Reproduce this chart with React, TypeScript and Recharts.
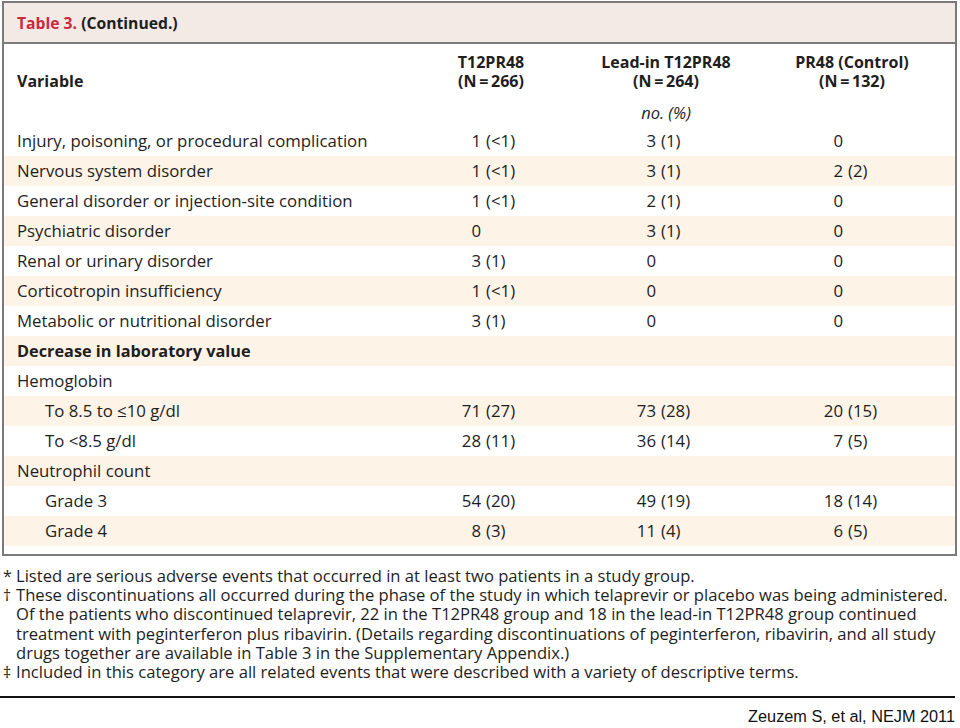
import React from 'react'
import { BarChart, Bar, XAxis, YAxis } from 'recharts'

// rows of the table, top to bottom
const variables = [
  'Injury, poisoning, or procedural complication',
  'Nervous system disorder',
  'General disorder or injection-site condition',
  'Psychiatric disorder',
  'Renal or urinary disorder',
  'Corticotropin insufficiency',
  'Metabolic or nutritional disorder',
  'Decrease in laboratory value',
  'Hemoglobin',
  'To 8.5 to \u226410 g/dl',
  'To <8.5 g/dl',
  'Neutrophil count',
  'Grade 3',
  'Grade 4',
]
const rowKinds = [
  'item', 'item', 'item', 'item', 'item', 'item', 'item',
  'section', 'group', 'sub', 'sub', 'group', 'sub', 'sub',
]

// no. (%) per study group
const t12Counts = [1, 1, 1, 0, 3, 1, 3, null, null, 71, 28, null, 54, 8]
const t12Pcts = ['<1', '<1', '<1', null, '1', '<1', '1', null, null, '27', '11', null, '20', '3']
const leadInCounts = [3, 3, 2, 3, 0, 0, 0, null, null, 73, 36, null, 49, 11]
const leadInPcts = ['1', '1', '1', '1', null, null, null, null, null, '28', '14', null, '19', '4']
const pr48Counts = [0, 2, 0, 0, 0, 0, 0, null, null, 20, 7, null, 18, 6]
const pr48Pcts = [null, '2', null, null, null, null, null, null, null, '15', '5', null, '14', '5']

const groupNames = ['T12PR48', 'Lead-in T12PR48', 'PR48 (Control)']
const groupSizes = [266, 264, 132]

const footnotes = [
  ['*', 'Listed are serious adverse events that occurred in at least two patients in a study group.'],
  ['\u2020', 'These discontinuations all occurred during the phase of the study in which telaprevir or placebo was being administered.'],
  ['', 'Of the patients who discontinued telaprevir, 22 in the T12PR48 group and 18 in the lead-in T12PR48 group continued'],
  ['', 'treatment with peginterferon plus ribavirin. (Details regarding discontinuations of peginterferon, ribavirin, and all study'],
  ['', 'drugs together are available in Table 3 in the Supplementary Appendix.)'],
  ['\u2021', 'Included in this category are all related events that were described with a variety of descriptive terms.'],
]

const rows = variables.map((variable, i) => ({
  variable,
  kind: rowKinds[i],
  t12: t12Counts[i],
  t12Pct: t12Pcts[i],
  leadIn: leadInCounts[i],
  leadInPct: leadInPcts[i],
  pr48: pr48Counts[i],
  pr48Pct: pr48Pcts[i],
}))

const FONT = '"Open Sans", "DejaVu Sans", sans-serif'
const TEXT = '#1e1e1e'
const SHADE = '#fdf3e6'
const BORDER = '#7a7a7a'

// right edge of the count in each group column
const countEnds = [481, 656, 843]
const headerCenters = [491, 666, 852]

// each table row is one full-width bar on the category band scale
function TableRow(props: any) {
  const { x, y, width, height, index, payload } = props
  const row = payload
  const cy = y + height / 2
  const cells = [
    [row.t12, row.t12Pct],
    [row.leadIn, row.leadInPct],
    [row.pr48, row.pr48Pct],
  ]
  return (
    <g fontFamily={FONT} fontSize={16.8} fill={TEXT}>
      <rect
        x={x}
        y={y}
        width={width}
        height={height}
        fill={index % 2 === 1 ? SHADE : '#fff'}
      />
      <text
        x={row.kind === 'sub' ? 45 : 17}
        y={cy}
        dy="0.36em"
        fill={TEXT}
        fontWeight={row.kind === 'section' ? 700 : 400}
        fontSize={row.kind === 'section' ? 16.3 : 16.8}
      >
        {row.variable}
      </text>
      {cells.map(([count, pct], j) =>
        count === null ? null : (
          <g key={j}>
            <text x={countEnds[j]} y={cy} dy="0.36em" textAnchor="end" fill={TEXT}>
              {count}
            </text>
            {pct !== null && (
              <text x={countEnds[j] + 5} y={cy} dy="0.36em" fill={TEXT}>
                ({pct})
              </text>
            )}
          </g>
        )
      )}
    </g>
  )
}

function Label({ x, y, children, center, style, h = 20 }: any) {
  return (
    <div
      style={{
        position: 'absolute',
        left: x,
        top: y - h / 2,
        height: h,
        lineHeight: `${h}px`,
        whiteSpace: 'nowrap',
        transform: center ? 'translateX(-50%)' : undefined,
        ...style,
      }}
    >
      {children}
    </div>
  )
}

export default function App() {
  return (
    <div
      style={{
        position: 'absolute',
        left: 0,
        top: 0,
        width: 960,
        height: 728,
        background: '#fff',
        fontFamily: FONT,
        color: TEXT,
        overflow: 'hidden',
      }}
    >
      <div style={{ position: 'absolute', left: 0, top: 0 }}>
        <BarChart
          width={960}
          height={728}
          data={rows}
          layout="vertical"
          barCategoryGap={0}
          margin={{ top: 126, right: 5, bottom: 182, left: 4 }}
        >
          <XAxis type="number" hide domain={[0, 1]} />
          <YAxis type="category" dataKey="variable" hide />
          <Bar
            dataKey={() => 1}
            isAnimationActive={false}
            shape={(p: any) => <TableRow key={`row-${p.index}`} {...p} />}
          />
        </BarChart>
      </div>

      {/* title bar */}
      <div
        style={{
          position: 'absolute',
          left: 2,
          top: 1,
          width: 951,
          height: 39,
          background: '#f3e9e5',
          border: `2px solid ${BORDER}`,
        }}
      />
      <Label x={17} y={23} style={{ fontSize: 15.7, fontWeight: 700 }}>
        <span style={{ color: '#cc2a3d' }}>Table 3.</span> (Continued.)
      </Label>

      {/* table frame */}
      <div
        style={{
          position: 'absolute',
          left: 2,
          top: 42,
          width: 951,
          height: 512,
          borderLeft: `2px solid ${BORDER}`,
          borderRight: `2px solid ${BORDER}`,
          borderBottom: `2px solid ${BORDER}`,
        }}
      />

      <Label x={17} y={81} style={{ fontSize: 16, fontWeight: 700 }}>
        Variable
      </Label>
      {groupNames.map((name, i) => (
        <React.Fragment key={name}>
          <Label x={headerCenters[i]} y={62} h={18} center style={{ fontSize: 16, fontWeight: 700 }}>
            {name}
          </Label>
          <Label x={headerCenters[i]} y={81} h={18} center style={{ fontSize: 16, fontWeight: 700 }}>
            (N{'\u2009=\u2009'}{groupSizes[i]})
          </Label>
        </React.Fragment>
      ))}
      <Label x={666} y={113} center style={{ fontSize: 16.5, fontStyle: 'italic' }}>
        no. (%)
      </Label>

      {/* footnotes */}
      {footnotes.map(([mark, line], i) => (
        <React.Fragment key={i}>
          {mark && (
            <Label x={3} y={576 + i * 19.2} h={18} style={{ fontSize: 16 }}>
              {mark}
            </Label>
          )}
          <Label x={16} y={576 + i * 19.2} h={18} style={{ fontSize: 16.6 }}>
            {line}
          </Label>
        </React.Fragment>
      ))}

      <div
        style={{
          position: 'absolute',
          left: 0,
          top: 696,
          width: 955,
          height: 2,
          background: '#111',
        }}
      />
      <div
        style={{
          position: 'absolute',
          right: 5,
          top: 706,
          lineHeight: '20px',
          fontFamily: '"Liberation Sans", Arial, sans-serif',
          fontSize: 16.3,
          color: '#111',
          whiteSpace: 'nowrap',
        }}
      >
        Zeuzem S, et al, NEJM 2011
      </div>
    </div>
  )
}
